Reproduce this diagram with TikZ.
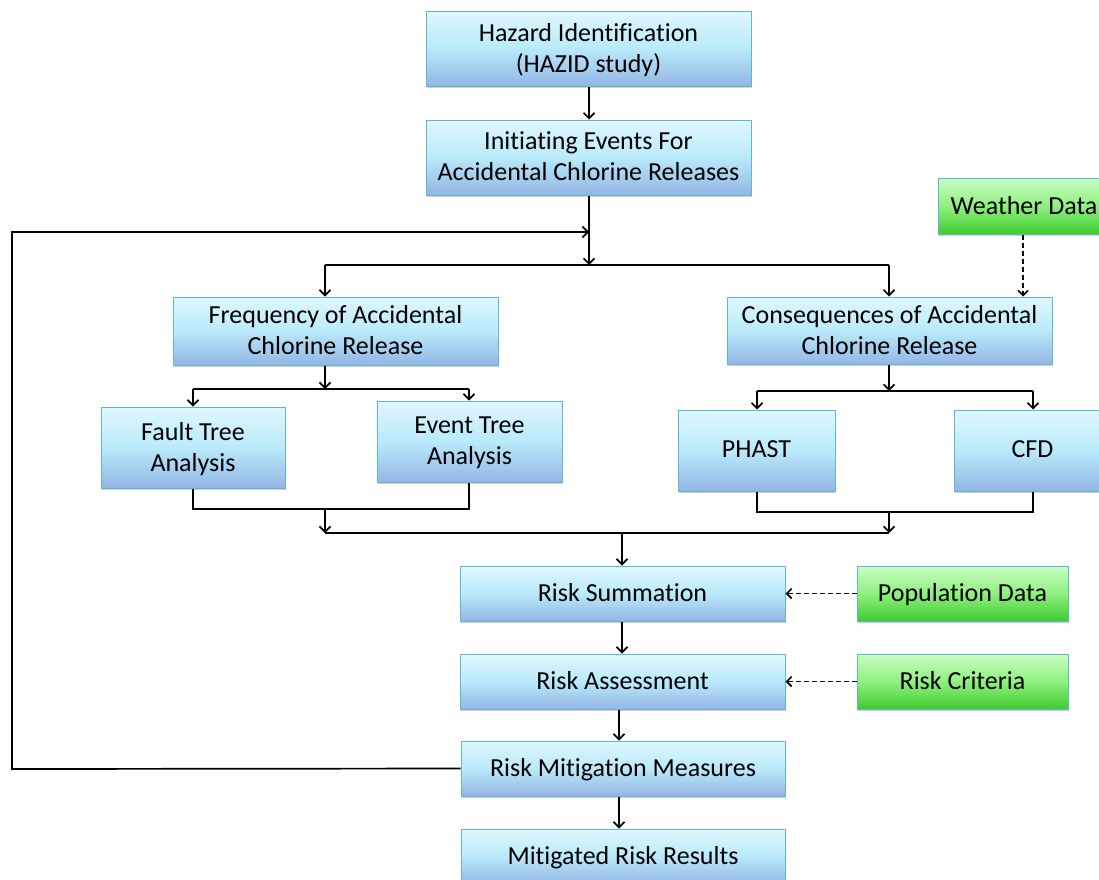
\documentclass[tikz,border=0pt]{standalone}
\usepackage{fontspec}
\setmainfont{Carlito}[Ligatures={NoCommon}]
\usetikzlibrary{arrows.meta,shadows}
\definecolor{bxtop}{HTML}{E0F7FE}
\definecolor{bxmid}{HTML}{B9EAFA}
\definecolor{bxbot}{HTML}{93B5E4}
\definecolor{bxline}{HTML}{5DB7D1}
\definecolor{grtop}{HTML}{CBFDC4}
\definecolor{grmid}{HTML}{8FF07F}
\definecolor{grbot}{HTML}{3FCB2E}
\begin{document}
\begin{tikzpicture}[x=1pt,y=-1pt,
  basebox/.style={draw=bxline, line width=1pt, inner sep=0pt, align=center,
    font=\fontsize{26}{31}\selectfont, text depth=2pt,
    drop shadow={shadow xshift=1.2pt, shadow yshift=-1.5pt, opacity=0.35}},
  bluebox/.style={basebox, top color=bxtop, bottom color=bxbot, middle color=bxmid},
  greenbox/.style={basebox, top color=grtop, bottom color=grbot, middle color=grmid},
  arr/.style={line width=1.7pt, -{Straight Barb[length=5.5pt,width=11pt,line width=1.7pt]}},
  ln/.style={line width=1.7pt},
  darr/.style={line width=1.9pt, dash pattern=on 5pt off 3pt, -{Straight Barb[length=5pt,width=10pt,line width=1.6pt]}}
]
\clip (0,0) rectangle (1099,879);
\fill[white] (0,0) rectangle (1099,879);

% nodes
\node[bluebox, minimum width=325pt, minimum height=75pt] (haz) at (588.5,48.5) {Hazard Identification\\(HAZID study)};
\node[bluebox, minimum width=325pt, minimum height=75pt] (ini) at (588.5,157.5) {Initiating Events For\\Accidental Chlorine Releases};
\node[greenbox, minimum width=172pt, minimum height=56pt] (wea) at (1024,206) {Weather Data};
\node[bluebox, minimum width=325pt, minimum height=68pt] (fre) at (335.5,331) {Frequency of Accidental\\Chlorine Release};
\node[bluebox, minimum width=325pt, minimum height=67pt] (con) at (889.5,330.5) {Consequences of Accidental\\Chlorine Release};
\node[bluebox, minimum width=184pt, minimum height=81pt] (fta) at (193,447.5) {Fault Tree\\Analysis};
\node[bluebox, minimum width=185pt, minimum height=81pt] (eta) at (469.5,441.5) {Event Tree\\Analysis};
\node[bluebox, minimum width=157pt, minimum height=81pt] (pha) at (756.5,450.5) {PHAST};
\node[bluebox, minimum width=157pt, minimum height=81pt] (cfd) at (1032.5,450.5) {CFD};
\node[bluebox, minimum width=325pt, minimum height=55pt] (rsu) at (622.5,593.5) {Risk Summation};
\node[bluebox, minimum width=325pt, minimum height=55pt] (ras) at (622.5,681.5) {Risk Assessment};
\node[bluebox, minimum width=324pt, minimum height=55pt] (rmm) at (623,768.5) {Risk Mitigation Measures};
\node[bluebox, minimum width=324pt, minimum height=55pt] (mrr) at (623,856.5) {Mitigated Risk Results};
\node[greenbox, minimum width=211pt, minimum height=55pt] (pop) at (962.5,593.5) {Population Data};
\node[greenbox, minimum width=211pt, minimum height=55pt] (crit) at (962.5,681.5) {Risk Criteria};

% junction coordinates
\coordinate (j1) at (589,265);
\coordinate (j1l) at (325,265);
\coordinate (j1r) at (889,265);
\coordinate (fb) at (589,232);
\coordinate (fbl) at (12,232);
\coordinate (fbb) at (12,769);
\coordinate (j2) at (325,389);
\coordinate (j2l) at (193,389);
\coordinate (j2r) at (469,389);
\coordinate (j3) at (889,391);
\coordinate (j3l) at (757,391);
\coordinate (j3r) at (1033,391);
\coordinate (j4l) at (193,509);
\coordinate (j4r) at (469,509);
\coordinate (j4) at (325,509);
\coordinate (j5l) at (757,512);
\coordinate (j5r) at (1033,512);
\coordinate (j5) at (889,512);
\coordinate (j6l) at (325,533);
\coordinate (j6r) at (889,533);
\coordinate (j6) at (622,533);

% connectors
\draw[arr] (haz.south -| 589,0) -- (ini.north -| 589,0);
\draw[arr] (ini.south -| 589,0) -- (j1);
\draw[ln] (j1l) -- (j1r);
\draw[arr] (j1l) -- (j1l |- fre.north);
\draw[arr] (j1r) -- (j1r |- con.north);
\draw[ln] (rmm.west) -- (fbb) -- (fbl) -- (589,232);
\draw[arr] (fbl) -- (fb);
\draw[darr] (wea.south -| 1023,0) -- (1023,0 |- con.north);

\draw[arr] (fre.south -| j2) -- (j2);
\draw[ln] (j2l) -- (j2r);
\draw[arr] (j2l) -- (j2l |- fta.north);
\draw[arr] (j2r) -- (j2r |- eta.north);

\draw[arr] (con.south -| j3) -- (j3);
\draw[ln] (j3l) -- (j3r);
\draw[arr] (j3l) -- (j3l |- pha.north);
\draw[arr] (j3r) -- (j3r |- cfd.north);

\draw[ln] (fta.south -| j4l) -- (j4l) -- (j4r) -- (eta.south -| j4r);
\draw[arr] (j4) -- (j4 |- j6l);
\draw[ln] (pha.south -| j5l) -- (j5l) -- (j5r) -- (cfd.south -| j5r);
\draw[arr] (j5) -- (j5 |- j6r);
\draw[ln] (j6l) -- (j6r);
\draw[arr] (j6) -- (j6 |- rsu.north);

\draw[arr] (rsu.south -| 622,0) -- (ras.north -| 622,0);
\draw[arr] (ras.south -| 619,0) -- (rmm.north -| 619,0);
\draw[arr] (rmm.south -| 619,0) -- (mrr.north -| 619,0);
\draw[darr] (pop.west) -- (rsu.east);
\draw[darr] (crit.west) -- (ras.east);
\end{tikzpicture}
\end{document}
